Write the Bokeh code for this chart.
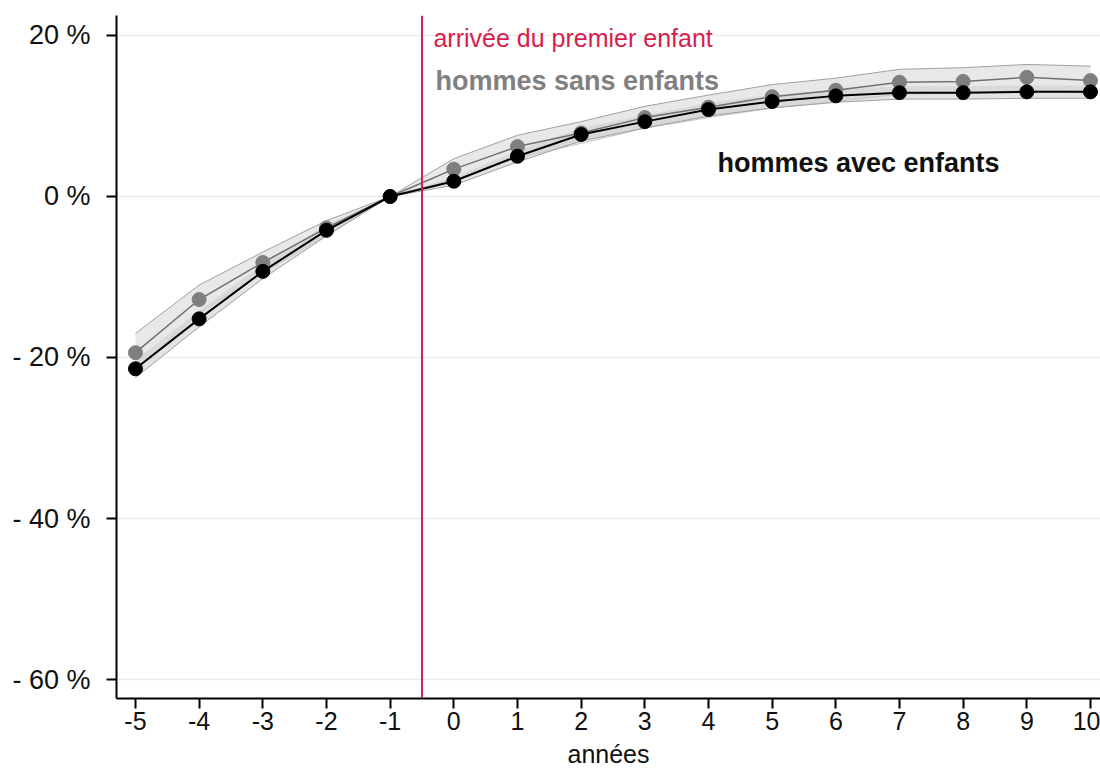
from bokeh.plotting import figure
from bokeh.models import ColumnDataSource, Span, Label, FixedTicker, Range1d
from bokeh.embed import file_html
from bokeh.resources import INLINE

# ---- data ----
annees = [-5, -4, -3, -2, -1, 0, 1, 2, 3, 4, 5, 6, 7, 8, 9, 10]

sans_enfants = [-19.4, -12.8, -8.2, -3.9, 0.0, 3.4, 6.2, 7.9, 9.8, 11.1, 12.4, 13.2, 14.2, 14.3, 14.8, 14.4]
sans_haut = [-17.0, -11.0, -6.9, -3.0, 0.0, 4.7, 7.6, 9.3, 11.2, 12.6, 13.9, 14.7, 15.8, 16.0, 16.4, 16.2]
sans_bas = [-21.6, -14.5, -9.5, -4.8, 0.0, 2.1, 4.8, 6.6, 8.5, 9.8, 11.0, 11.8, 12.7, 12.8, 13.2, 12.8]

avec_enfants = [-21.4, -15.2, -9.3, -4.2, 0.0, 1.9, 5.0, 7.7, 9.3, 10.8, 11.8, 12.5, 12.9, 12.9, 13.0, 13.0]
avec_haut = [-20.3, -14.2, -8.4, -3.5, 0.0, 2.4, 5.7, 8.5, 10.1, 11.6, 12.6, 13.3, 13.7, 13.7, 13.8, 13.8]
avec_bas = [-22.5, -16.2, -10.2, -4.9, 0.0, 1.4, 4.3, 6.9, 8.5, 10.0, 11.0, 11.7, 12.1, 12.1, 12.2, 12.2]

y_ticks = [20, 0, -20, -40, -60]
y_tick_labels = {20: "20 %", 0: "0 %", -20: "- 20 %", -40: "- 40 %", -60: "- 60 %"}
x_ticks = annees
x_tick_labels = {v: str(v) for v in annees}  # hyphen-minus as in the original
evenement_x = -0.5

FONT = "Liberation Sans"

src = ColumnDataSource(dict(
    x=annees, sans=sans_enfants, sans_hi=sans_haut, sans_lo=sans_bas,
    avec=avec_enfants, avec_hi=avec_haut, avec_lo=avec_bas,
))

p = figure(width=1100, height=771, output_backend="svg", toolbar_location=None,
           x_range=Range1d(-5.298, 10.157), y_range=Range1d(-62.36, 22.484),
           min_border_left=116, min_border_right=0, min_border_top=15, min_border_bottom=73)
p.outline_line_color = None
p.background_fill_color = "white"
p.border_fill_color = "white"

# grid
p.xgrid.visible = False
p.ygrid.ticker = FixedTicker(ticks=y_ticks)
p.ygrid.grid_line_color = "#e6eff2"
p.ygrid.grid_line_width = 1.5

# axes
for ax in (p.xaxis[0], p.yaxis[0]):
    ax.axis_line_color = "black"
    ax.axis_line_width = 2
    ax.major_tick_line_color = "black"
    ax.major_tick_line_width = 2
    ax.major_tick_in = 0
    ax.major_tick_out = 10
    ax.minor_tick_line_color = None
    ax.major_label_text_font = FONT
    ax.major_label_text_color = "#111111"

p.yaxis.ticker = FixedTicker(ticks=y_ticks)
p.yaxis.major_label_overrides = y_tick_labels
p.yaxis.major_label_standoff = 16
p.yaxis.major_label_text_font_size = "27px"

p.xaxis.ticker = FixedTicker(ticks=x_ticks)
p.xaxis.major_label_overrides = x_tick_labels
p.xaxis.major_label_standoff = 3
p.xaxis.major_label_text_font_size = "25px"
p.xaxis.axis_label = "années"
p.xaxis.axis_label_text_font = FONT
p.xaxis.axis_label_text_font_style = "normal"
p.xaxis.axis_label_text_font_size = "25px"
p.xaxis.axis_label_text_color = "#111111"
p.xaxis.axis_label_standoff = 7

# confidence bands
p.varea(x="x", y1="sans_lo", y2="sans_hi", source=src, fill_color="#d8d8d8", fill_alpha=0.6)
p.line(x="x", y="sans_hi", source=src, line_color="#a0a0a0", line_width=1)
p.line(x="x", y="sans_lo", source=src, line_color="#c4c4c4", line_width=1)
p.varea(x="x", y1="avec_lo", y2="avec_hi", source=src, fill_color="#cccccc", fill_alpha=0.55)
p.line(x="x", y="avec_lo", source=src, line_color="#a0a0a0", line_width=1)

# event line
p.add_layout(Span(location=evenement_x, dimension="height", line_color="#d81e4c", line_width=2))

# series
p.line(x="x", y="sans", source=src, line_color="#707070", line_width=1.5)
p.scatter(x="x", y="sans", source=src, size=14, fill_color="#7f7f7f", line_color="#7f7f7f")
p.line(x="x", y="avec", source=src, line_color="black", line_width=2)
p.scatter(x="x", y="avec", source=src, size=14, fill_color="black", line_color="black")

# annotations
p.add_layout(Label(x=-0.32, y=19.63, text="arrivée du premier enfant",
                   text_font=FONT, text_font_size="25px", text_color="#d81e4c",
                   text_baseline="alphabetic"))
p.add_layout(Label(x=-0.288, y=14.29, text="hommes sans enfants",
                   text_font=FONT, text_font_size="27px", text_font_style="bold",
                   text_color="#808080", text_baseline="alphabetic"))
p.add_layout(Label(x=4.14, y=4.10, text="hommes avec enfants",
                   text_font=FONT, text_font_size="27px", text_font_style="bold",
                   text_color="#111111", text_baseline="alphabetic"))

open("out.html", "w").write(file_html(p, INLINE))
